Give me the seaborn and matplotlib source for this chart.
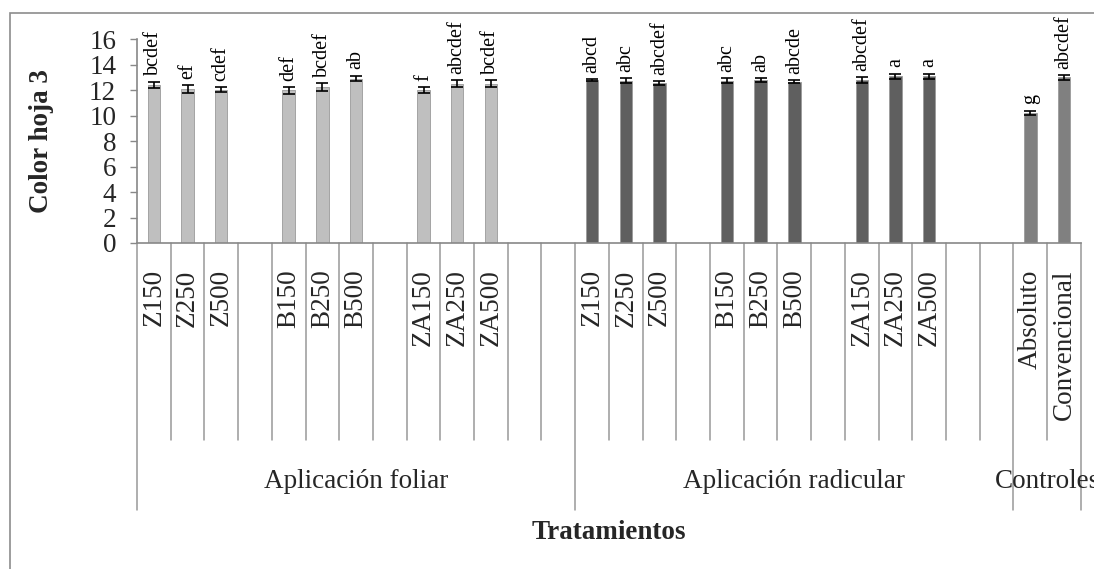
import numpy as np
import pandas as pd
import matplotlib
matplotlib.use("Agg")
import matplotlib.pyplot as plt
import matplotlib.transforms as mtransforms
from matplotlib.patches import Rectangle
import seaborn as sns

# Data
groups = ["Aplicación foliar", "Aplicación radicular", "Controles"]

foliar_slots = ["Z150", "Z250", "Z500", "", "B150", "B250", "B500", "", "ZA150", "ZA250", "ZA500", "", ""]
radicular_slots = ["Z150", "Z250", "Z500", "", "B150", "B250", "B500", "", "ZA150", "ZA250", "ZA500", "", ""]
controles_slots = ["Absoluto", "Convencional"]

foliar_values = [12.42, 12.08, 12.03, 11.98, 12.24, 12.91, 12.00, 12.52, 12.52]
radicular_values = [12.80, 12.76, 12.55, 12.73, 12.80, 12.68, 12.80, 13.10, 13.10]
controles_values = [10.20, 13.00]

foliar_err = [0.26, 0.29, 0.21, 0.26, 0.29, 0.22, 0.23, 0.29, 0.29]
radicular_err = [0.08, 0.20, 0.15, 0.20, 0.15, 0.12, 0.20, 0.20, 0.20]
controles_err = [0.18, 0.20]

foliar_letters = ["bcdef", "ef", "cdef", "def", "bcdef", "ab", "f", "abcdef", "bcdef"]
radicular_letters = ["abcd", "abc", "abcdef", "abc", "ab", "abcde", "abcdef", "a", "a"]
controles_letters = ["g", "abcdef"]

group_colors = {"Aplicación foliar": "#BFBFBF",
                "Aplicación radicular": "#5F5F5F",
                "Controles": "#808080"}

# Build a slot table (blank slots keep their place on the axis)
rows = []
slot_lists = [foliar_slots, radicular_slots, controles_slots]
value_lists = [foliar_values, radicular_values, controles_values]
err_lists = [foliar_err, radicular_err, controles_err]
letter_lists = [foliar_letters, radicular_letters, controles_letters]
for g, slots, vals, errs, lets in zip(groups, slot_lists, value_lists, err_lists, letter_lists):
    k = 0
    for i, s in enumerate(slots):
        key = f"{g}|{i}"
        if s:
            rows.append(dict(slot=key, label=s, group=g, value=vals[k], err=errs[k], letter=lets[k]))
            k += 1
        else:
            rows.append(dict(slot=key, label="", group=g, value=np.nan, err=np.nan, letter=""))
df = pd.DataFrame(rows)
order = list(df["slot"])

sns.set_style("white")
plt.rcParams["font.family"] = ["Liberation Serif", "DejaVu Serif"]

fig = plt.figure(figsize=(10.94, 5.69), dpi=100)
ax = fig.add_axes([0.1252, 0.573, 0.8628, 0.358])

bars = df.dropna(subset=["value"])
sns.barplot(data=bars, x="slot", y="value", hue="group", order=order,
            palette=group_colors, dodge=False, width=0.37, legend=False,
            edgecolor="#9a9a9a", linewidth=0.6, ax=ax)

pos = {s: i for i, s in enumerate(order)}
xs = bars["slot"].map(pos).to_numpy()
ax.errorbar(xs, bars["value"], yerr=bars["err"], fmt="none",
            ecolor="black", elinewidth=1.2, capsize=4, capthick=1.2)
for x, v, e, t in zip(xs, bars["value"], bars["err"], bars["letter"]):
    ax.text(x, v + e + 0.5, t, rotation=90, ha="center", va="bottom",
            fontsize=14.5, color="black")

ax.set_xlim(-0.5, len(order) - 0.5)
ax.set_ylim(0, 16)
ax.set_yticks(np.arange(0, 17, 2))
ax.tick_params(axis="y", labelsize=19.5, length=5, width=1, color="#888888", pad=10, left=True)
ax.set_xticks(range(len(order)))
ax.set_xticklabels(df["label"], rotation=90, fontsize=19.5)
ax.tick_params(axis="x", length=0, pad=19)

for side in ["top", "right"]:
    ax.spines[side].set_visible(False)
for side in ["left", "bottom"]:
    ax.spines[side].set_color("#888888")
    ax.spines[side].set_linewidth(1.2)

# Multi-level category separators
trans = mtransforms.blended_transform_factory(ax.transData, ax.transAxes)
bounds = np.cumsum([0] + [len(s) for s in slot_lists]) - 0.5
for i in range(len(order) + 1):
    xb = i - 0.5
    if np.any(np.isclose(bounds, xb)):
        ax.plot([xb, xb], [0, -1.31], color="#999999", lw=1.1, transform=trans, clip_on=False)
    else:
        ax.plot([xb, xb], [0, -0.965], color="#999999", lw=1.1, transform=trans, clip_on=False)
for g, b0, b1 in zip(groups, bounds[:-1], bounds[1:]):
    ax.text((b0 + b1) / 2, -1.17, g, ha="center", va="center", fontsize=19.5,
            transform=trans, clip_on=False)

ax.set_ylabel("Color hoja 3", fontsize=19.5, fontweight="bold")
ax.yaxis.set_label_coords(-0.088, 0.5)
ax.set_xlabel("Tratamientos", fontsize=19.5, fontweight="bold")
ax.xaxis.set_label_coords(0.5, -1.36)

# chart area border
fig.add_artist(Rectangle((0.009, -0.1), 1.2, 1.077, transform=fig.transFigure,
                         fill=False, edgecolor="#8c8c8c", lw=1.2))

fig.savefig("out.png", dpi=100)
